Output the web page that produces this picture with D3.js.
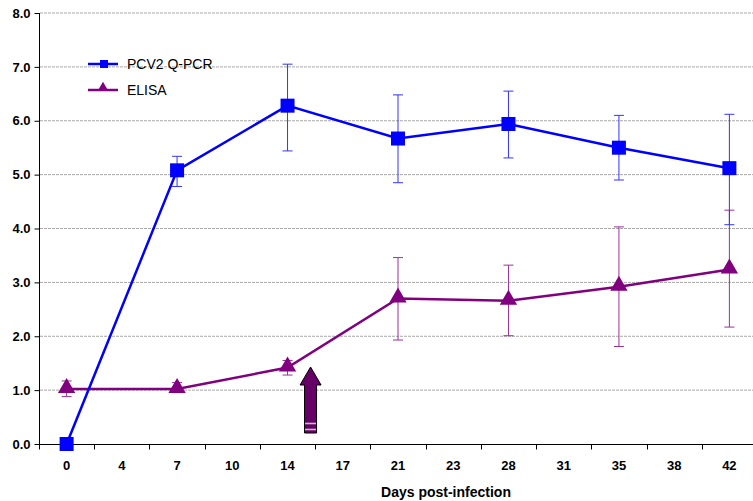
<!DOCTYPE html>
<html><head><meta charset="utf-8">
<script src="https://cdn.jsdelivr.net/npm/d3@7"></script>
<style>body{margin:0;background:#fff;} svg{display:block;font-family:"Liberation Sans",Arial,sans-serif;}</style>
</head><body>
<svg id="c" width="753" height="501"></svg>
<script>
const days = ["0","4","7","10","14","17","21","23","28","31","35","38","42"];
const yTicks = [0,1,2,3,4,5,6,7,8];
const pcrDays = ["0","7","14","21","28","35","42"];
const pcrVals = [0.0,5.08,6.28,5.67,5.94,5.50,5.12];
const pcrHi =   [null,5.34,7.05,6.48,6.55,6.10,6.12];
const pcrLo =   [null,4.78,5.44,4.85,5.31,4.90,4.07];
const elisaDays = ["0","7","14","21","28","35","42"];
const elisaVals = [1.02,1.02,1.42,2.70,2.66,2.92,3.24];
const elisaHi =   [1.17,1.14,1.55,3.46,3.32,4.03,4.34];
const elisaLo =   [0.88,0.96,1.28,1.93,2.01,1.81,2.17];
const arrowDay = 15.25; // arrow placed between day 14 and 17
const legendLabels = ["PCV2 Q-PCR","ELISA"];

const svg = d3.select("#c");
const x = d3.scaleBand().domain(days).range([39, 757]);
const y = d3.scaleLinear().domain([0,8]).range([444, 13]);

// grid
svg.append("g").selectAll("line").data(yTicks.filter(d=>d>0)).join("line")
  .attr("x1",40).attr("x2",753).attr("y1",d=>y(d)).attr("y2",d=>y(d))
  .attr("stroke","#a8a8a8").attr("stroke-width",1).attr("stroke-dasharray","3,1");

// y axis
const ya = svg.append("g").attr("transform","translate(39.5,0)")
  .call(d3.axisLeft(y).tickValues(yTicks).tickFormat(d3.format(".1f")).tickSize(5).tickPadding(4));
ya.select(".domain").attr("stroke","#000").attr("d","M0,"+y(8)+"V"+y(0));
ya.selectAll("text").attr("font-size",13).attr("font-weight","bold").attr("font-family","Liberation Sans, Arial, sans-serif").attr("fill","#000");

// x axis (ticks at band boundaries)
const xa = svg.append("g").attr("transform","translate(0,444.5)");
xa.append("line").attr("x1",39).attr("x2",753).attr("stroke","#000");
xa.selectAll("line.t").data(days).join("line").attr("class","t")
  .attr("x1",d=>Math.round(x(d))+0.5).attr("x2",d=>Math.round(x(d))+0.5).attr("y1",0).attr("y2",5).attr("stroke","#000");
xa.selectAll("text").data(days).join("text")
  .attr("x",d=>x(d)+x.bandwidth()/2).attr("y",25.5).attr("text-anchor","middle")
  .attr("font-size",13).attr("font-weight","bold").text(d=>d);
svg.append("text").attr("x",446).attr("y",497).attr("text-anchor","middle")
  .attr("font-size",14).attr("font-weight","bold").text("Days post-infection");

const cx = d => x(d)+x.bandwidth()/2;

function errBars(daysArr, hi, lo, color){
  const g = svg.append("g").attr("stroke",color).attr("stroke-width",1);
  daysArr.forEach((d,i)=>{
    if(hi[i]==null) return;
    const X = cx(d);
    g.append("line").attr("x1",X).attr("x2",X).attr("y1",y(hi[i])).attr("y2",y(lo[i]));
    g.append("line").attr("x1",X-5).attr("x2",X+5).attr("y1",y(hi[i])).attr("y2",y(hi[i]));
    g.append("line").attr("x1",X-5).attr("x2",X+5).attr("y1",y(lo[i])).attr("y2",y(lo[i]));
  });
}
errBars(elisaDays, elisaHi, elisaLo, "#993399");
errBars(pcrDays, pcrHi, pcrLo, "#3333ff");

const line = d3.line().x(d=>cx(d[0])).y(d=>y(d[1]));
svg.append("path").datum(elisaDays.map((d,i)=>[d,elisaVals[i]])).attr("d",line)
  .attr("fill","none").attr("stroke","#800080").attr("stroke-width",2.5);
svg.append("path").datum(pcrDays.map((d,i)=>[d,pcrVals[i]])).attr("d",line)
  .attr("fill","none").attr("stroke","#0000ff").attr("stroke-width",2.5);

const tri = d3.symbol().type(d3.symbolTriangle).size(130);
svg.append("g").selectAll("path").data(elisaDays.map((d,i)=>[d,elisaVals[i]])).join("path")
  .attr("d",tri).attr("transform",d=>`translate(${cx(d[0])},${y(d[1])-1})`).attr("fill","#800080");
svg.append("g").selectAll("rect").data(pcrDays.map((d,i)=>[d,pcrVals[i]])).join("rect")
  .attr("x",d=>cx(d[0])-7).attr("y",d=>y(d[1])-7).attr("width",14).attr("height",14).attr("fill","#0000ff");

// arrow
const ax = x("14")+x.bandwidth()/2 + (x("17")-x("14"))*(arrowDay-14)/3;
const ag = svg.append("g").attr("transform",`translate(${ax},0)`);
const tipY = 367, headBase = 385, bottom = 433;
ag.append("path").attr("d",`M0,${tipY} L10.5,${headBase} L6,${headBase} L6,${bottom} L-6,${bottom} L-6,${headBase} L-10.5,${headBase} Z`)
  .attr("fill","#660066").attr("stroke","#000").attr("stroke-width",1);
[423.5,429.5].forEach(v=>ag.append("line").attr("x1",-5.5).attr("x2",5.5).attr("y1",v).attr("y2",v).attr("stroke","#c0c0c0").attr("stroke-width",1.6));

// legend
const lg = svg.append("g");
lg.append("line").attr("x1",88).attr("x2",118).attr("y1",64).attr("y2",64).attr("stroke","#0000ff").attr("stroke-width",2.5);
lg.append("rect").attr("x",100).attr("y",60).attr("width",8).attr("height",8).attr("fill","#0000ff");
lg.append("line").attr("x1",88).attr("x2",118).attr("y1",90).attr("y2",90).attr("stroke","#800080").attr("stroke-width",2.5);
lg.append("path").attr("d",d3.symbol().type(d3.symbolTriangle).size(50)).attr("transform","translate(103,88)").attr("fill","#800080");
lg.selectAll("text").data(legendLabels).join("text").attr("x",127).attr("y",(d,i)=>69+i*26)
  .attr("font-size",14).attr("fill","#000").text(d=>d);
</script>
</body></html>
